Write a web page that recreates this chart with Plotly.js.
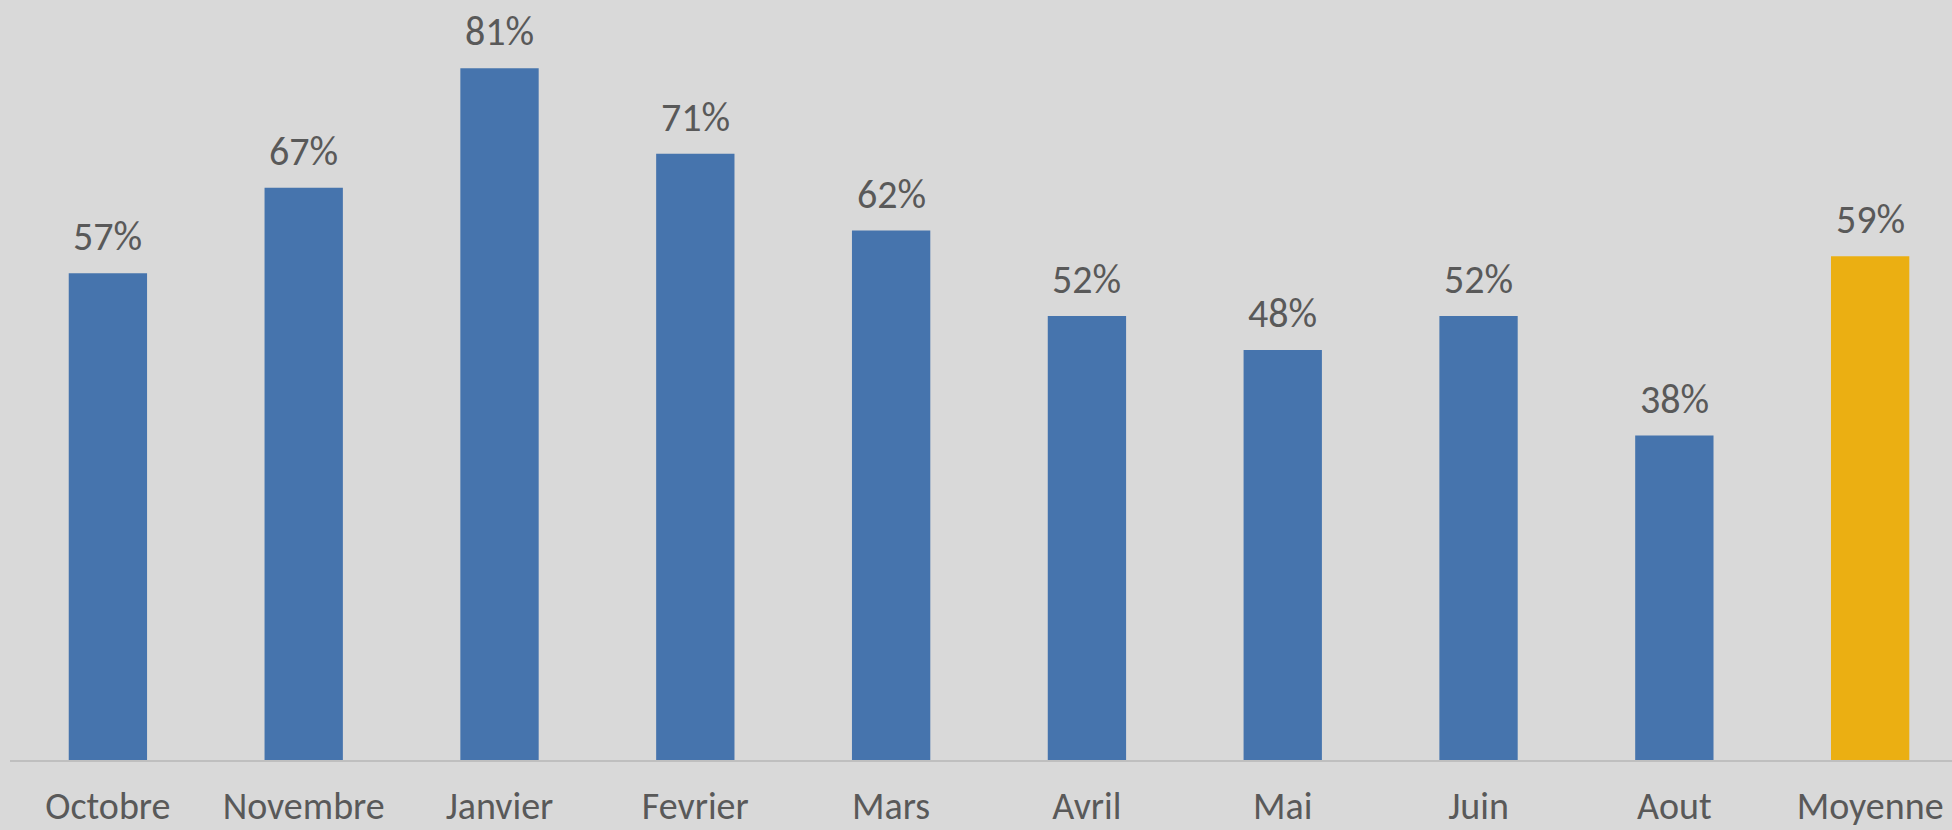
<!DOCTYPE html>
<html>
<head>
<meta charset="utf-8">
<script src="https://cdn.plot.ly/plotly-3.0.1.min.js"></script>
<style>html,body{margin:0;padding:0;background:#d9d9d9;}#chart{width:1952px;height:830px;}</style>
</head>
<body>
<div id="chart"></div>
<script>
const categories = ["Octobre","Novembre","Janvier","Fevrier","Mars","Avril","Mai","Juin","Aout","Moyenne"];
const values = [0.57,0.67,0.81,0.71,0.62,0.52,0.48,0.52,0.38,0.59];
const labels = ["57%","67%","81%","71%","62%","52%","48%","52%","38%","59%"];
const barColors = ["#4674ad","#4674ad","#4674ad","#4674ad","#4674ad","#4674ad","#4674ad","#4674ad","#4674ad","#ebaf12"];

const FONT = "Carlito, Calibri, Lato, sans-serif";
const trace = {
  type: "bar",
  x: categories,
  y: values,
  marker: {color: barColors, line: {width: 0}},
  width: 0.4,
  hoverinfo: "skip"
};
const annotations = categories.map((c, i) => ({
  x: c, y: values[i], xref: "x", yref: "y",
  text: labels[i], showarrow: false,
  yanchor: "bottom", yshift: 10,
  font: {family: FONT, size: 40, color: "#595959"}
}));
const layout = {
  width: 1952, height: 830,
  paper_bgcolor: "#d9d9d9", plot_bgcolor: "#d9d9d9",
  margin: {l: 10, r: 0, t: 0, b: 70},
  showlegend: false,
  annotations: annotations,
  xaxis: {
    range: [-0.5, 9.418],
    showgrid: false, zeroline: false,
    showline: true, linecolor: "#bfbfbf", linewidth: 2,
    ticks: "", ticklabelstandoff: 11,
    tickfont: {family: FONT, size: 38, color: "#595959"},
    fixedrange: true
  },
  yaxis: {
    range: [0, 0.89],
    visible: false, showgrid: false, zeroline: false,
    fixedrange: true
  }
};
Plotly.newPlot("chart", [trace], layout, {displayModeBar: false, staticPlot: true});
</script>
</body>
</html>
